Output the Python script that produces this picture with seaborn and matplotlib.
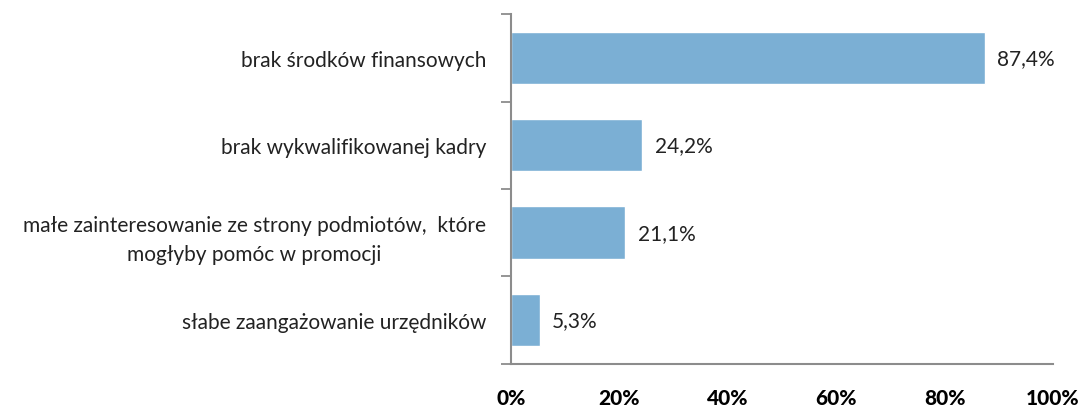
import matplotlib
matplotlib.use("Agg")
import matplotlib.pyplot as plt
import seaborn as sns
import pandas as pd
from matplotlib.ticker import FixedLocator

categories = [
    "brak środków finansowych",
    "brak wykwalifikowanej kadry",
    "małe zainteresowanie ze strony podmiotów,  które\nmogłyby pomóc w promocji",
    "słabe zaangażowanie urzędników",
]
values = [87.4, 24.2, 21.1, 5.3]
value_labels = ["87,4%", "24,2%", "21,1%", "5,3%"]
x_ticks = [0, 20, 40, 60, 80, 100]

sns.set_theme(style="white")
plt.rcParams["font.family"] = ["Lato", "DejaVu Sans"]

df = pd.DataFrame({"cat": categories, "val": values})

fig = plt.figure(figsize=(10.82, 4.10), dpi=100)
ax = fig.add_axes([0.4723, 0.1098, 0.5009, 0.8536])
sns.barplot(data=df, x="val", y="cat", orient="h", color="#7BAFD4",
            saturation=1, width=0.6, ax=ax)

ax.set_xlim(0, 100)
ax.set_ylim(len(categories) - 0.5, -0.5)
ax.set_xlabel("")
ax.set_ylabel("")
ax.xaxis.set_major_locator(FixedLocator(x_ticks))
ax.set_xticklabels([f"{t}%" for t in x_ticks], fontsize=15, fontweight="black", color="black")
ax.tick_params(axis="x", which="major", direction="out", length=8, width=1.3,
               color="#8c8c8c", pad=9)

ax.set_yticks(range(len(categories)))
ax.set_yticklabels(categories, fontsize=15, color="#222222",
                   ha="right", multialignment="center", linespacing=1.55)
ax.tick_params(axis="y", which="major", length=0, pad=18)
ax.set_yticks([i - 0.5 for i in range(len(categories) + 1)], minor=True)
ax.tick_params(axis="y", which="minor", direction="out", length=7, width=1.3,
               color="#8c8c8c", left=True)

for s in ["top", "right"]:
    ax.spines[s].set_visible(False)
for s in ["left", "bottom"]:
    ax.spines[s].set_color("#8c8c8c")
    ax.spines[s].set_linewidth(1.5)

for i, (v, lab) in enumerate(zip(values, value_labels)):
    ax.annotate(lab, xy=(v, i), xytext=(9, 0), textcoords="offset points",
                va="center", ha="left", fontsize=15, color="#222222")

fig.savefig("out.png", dpi=100)
